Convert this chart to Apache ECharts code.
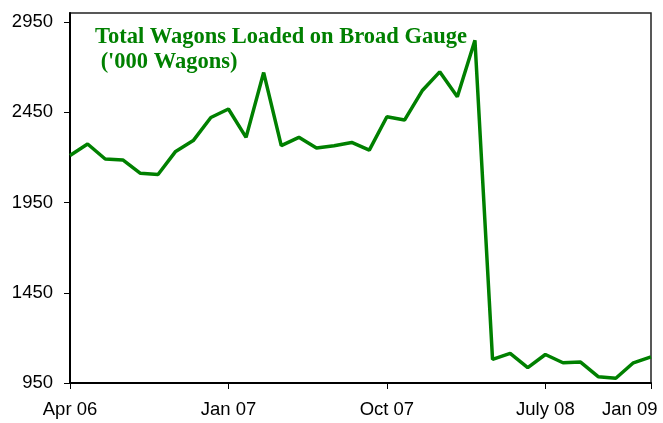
<!DOCTYPE html>
<html>
<head>
<meta charset="utf-8">
<script src="https://cdn.jsdelivr.net/npm/echarts@6/dist/echarts.min.js"></script>
<style>
html,body{margin:0;padding:0;background:#fff;}
#chart{width:663px;height:423px;}
</style>
</head>
<body>
<div id="chart"></div>
<script>
const months = ['Apr 06','May 06','Jun 06','Jul 06','Aug 06','Sep 06','Oct 06','Nov 06','Dec 06',
  'Jan 07','Feb 07','Mar 07','Apr 07','May 07','Jun 07','Jul 07','Aug 07','Sep 07',
  'Oct 07','Nov 07','Dec 07','Jan 08','Feb 08','Mar 08','Apr 08','May 08','Jun 08',
  'July 08','Aug 08','Sep 08','Oct 08','Nov 08','Dec 08','Jan 09'];
const wagons = [2210,2274,2191,2186,2112,2105,2233,2293,2421,
  2468,2311,2670,2265,2311,2252,2265,2283,2240,
  2425,2407,2569,2674,2536,2849,1081,1114,1035,
  1108,1062,1066,985,976,1062,1095];
const xTickLabels = {0:'Apr 06',9:'Jan 07',18:'Oct 07',27:'July 08',33:'Jan 09'};
const yTicks = [950,1450,1950,2450,2950];
const titleText = 'Total Wagons Loaded on Broad Gauge\n (\'000 Wagons)';

const chart = echarts.init(document.getElementById('chart'), null, {renderer:'canvas'});
const green = '#008000';
chart.setOption({
  animation:false,
  backgroundColor:'#fff',
  title:{
    text:titleText,
    left:90, top:20,
    textStyle:{fontFamily:'Liberation Serif', fontWeight:'bold', fontSize:22.5, color:green, lineHeight:25}
  },
  grid:{left:70, right:12, top:13, bottom:40, show:true, borderColor:'#222', borderWidth:1.5, backgroundColor:'transparent'},
  xAxis:{
    type:'category', data:months, boundaryGap:false,
    axisLine:{lineStyle:{color:'#000', width:2}},
    axisTick:{interval:(i)=>xTickLabels[i]!==undefined, length:6, lineStyle:{color:'#000', width:1}},
    axisLabel:{
      interval:(i)=>xTickLabels[i]!==undefined,
      margin:17,
      fontFamily:'Liberation Sans', fontSize:18.5, color:'#000',
      formatter:(v,i)=> i===months.length-1 ? '{r|'+xTickLabels[i]+'}' : xTickLabels[i],
      rich:{r:{width:98, align:'left', fontFamily:'Liberation Sans', fontSize:18.5, color:'#000'}}
    },
    splitLine:{show:false}
  },
  yAxis:{
    type:'value', min:950, max:3000, interval:500,
    axisLine:{show:true, lineStyle:{color:'#000', width:2}},
    axisTick:{show:true, length:6, customValues:yTicks, lineStyle:{color:'#000', width:1}},
    axisLabel:{customValues:yTicks, margin:17, fontFamily:'Liberation Sans', fontSize:18.5, color:'#000',
      formatter:(v)=>String(v)},
    splitLine:{show:false}
  },
  series:[{
    type:'line', data:wagons, showSymbol:false, symbol:'none',
    lineStyle:{color:green, width:3.5}
  }]
});
</script>
</body>
</html>
